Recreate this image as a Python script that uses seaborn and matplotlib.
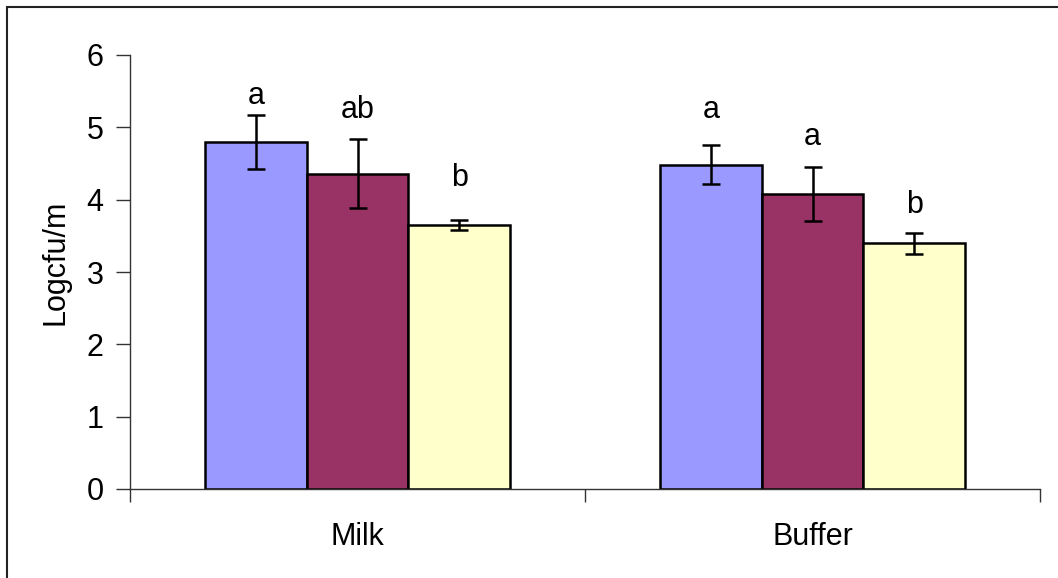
import pandas as pd
import seaborn as sns
import matplotlib.pyplot as plt
from matplotlib.patches import Rectangle

sns.set_style("ticks")
plt.rcParams['font.family'] = ['Liberation Sans', 'DejaVu Sans']
plt.rcParams['text.color'] = 'black'
plt.rcParams['axes.labelcolor'] = 'black'
plt.rcParams['xtick.labelcolor'] = 'black'
plt.rcParams['ytick.labelcolor'] = 'black'

groups = ["Milk", "Buffer"]
treatments = ["T1", "T2", "T3"]
means = {"T1": [4.80, 4.48], "T2": [4.36, 4.08], "T3": [3.65, 3.40]}
errs = {"T1": [0.37, 0.27], "T2": [0.48, 0.375], "T3": [0.065, 0.145]}
letters = {"T1": ["a", "a"], "T2": ["ab", "a"], "T3": ["b", "b"]}
label_y = {"T1": [5.32, 5.13], "T2": [5.13, 4.76], "T3": [4.19, 3.81]}
colors = ["#9999FF", "#993366", "#FFFFCC"]

rows = []
for t in treatments:
  for i, g in enumerate(groups):
    rows.append({"group": g, "treatment": t, "value": means[t][i]})
df = pd.DataFrame(rows)

fig = plt.figure(figsize=(10.58, 5.78), dpi=100)
ax = fig.add_axes([130 / 1058, 89 / 578, 910 / 1058, 434 / 578])

sns.barplot(
  df, x="group", y="value", hue="treatment",
  order=groups, hue_order=treatments,
  palette=colors, saturation=1, width=0.67, errorbar=None,
  edgecolor="black", linewidth=1.8,
  legend=False, ax=ax)

# error bars and letters on top of each bar
for j, t in enumerate(treatments):
  bars = ax.containers[j]
  for i, bar in enumerate(bars):
    xc = bar.get_x() + bar.get_width() / 2
    ax.errorbar(xc, means[t][i], yerr=errs[t][i], fmt="none",
                ecolor="black", elinewidth=1.8, capsize=6.5, capthick=1.8, zorder=5)
    ax.text(xc, label_y[t][i], letters[t][i], ha="center", va="baseline",
            fontsize=22, color="black")

ax.set_xlim(-0.5, 1.5)
ax.set_ylim(0, 6)
ax.set_yticks(range(7))
ax.set_xlabel("")
ax.set_ylabel("Logcfu/m", fontsize=22)
ax.yaxis.set_label_coords(-0.065, 0.523)

ax.set_xticks([-0.5, 0.5, 1.5], minor=True)
ax.tick_params(axis="x", which="major", length=0, pad=24, labelsize=22)
ax.tick_params(axis="x", which="minor", length=9, width=1, color="#333333")
ax.tick_params(axis="y", length=10, width=1, color="#333333", pad=9, labelsize=22)

sns.despine(ax=ax)
for s in ["left", "bottom"]:
  ax.spines[s].set_color("#333333")
  ax.spines[s].set_linewidth(1)

# outer chart border
fig.patches.append(Rectangle((7 / 1058, -0.1), 1.2, 1.1 - 7 / 578,
                             transform=fig.transFigure, fill=False,
                             edgecolor="#222222", linewidth=1.5))

fig.savefig("out.png", dpi=100)
